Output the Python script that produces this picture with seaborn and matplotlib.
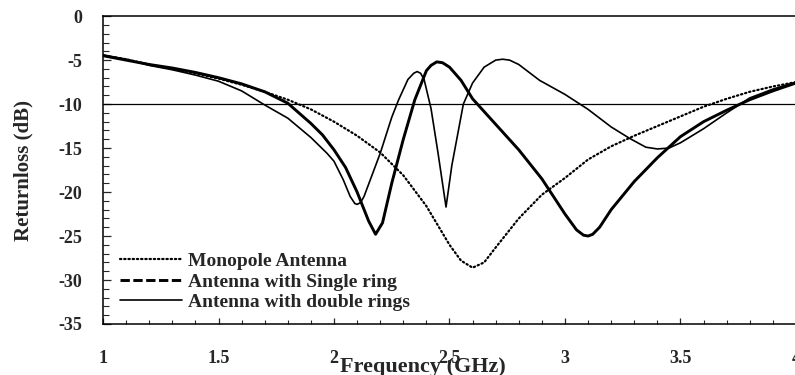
import matplotlib
matplotlib.use("Agg")
import matplotlib.pyplot as plt
from matplotlib.lines import Line2D
from matplotlib.ticker import MultipleLocator, FixedLocator
import numpy as np
import pandas as pd
import seaborn as sns

# ---------------- data ----------------
series_names = ["Monopole Antenna", "Antenna with Single ring", "Antenna with double rings"]

freq_mono = [1.0, 1.1, 1.2, 1.3, 1.4, 1.5, 1.6, 1.7, 1.8, 1.9, 2.0, 2.1, 2.2, 2.3,
             2.4, 2.5, 2.55, 2.6, 2.65, 2.7, 2.8, 2.9, 3.0, 3.1, 3.2, 3.3, 3.4,
             3.5, 3.6, 3.7, 3.8, 3.9, 4.0]
rl_mono = [-4.5, -4.9, -5.5, -6.0, -6.5, -7.1, -7.8, -8.6, -9.5, -10.6, -12.0, -13.6,
           -15.5, -18.1, -21.6, -26.0, -27.8, -28.6, -28.0, -26.3, -23.0, -20.3,
           -18.4, -16.3, -14.8, -13.6, -12.5, -11.4, -10.3, -9.4, -8.6, -8.0, -7.5]

freq_single = [1.0, 1.1, 1.2, 1.3, 1.4, 1.5, 1.6, 1.7, 1.8, 1.9, 1.95, 2.0, 2.05,
               2.1, 2.15, 2.18, 2.21, 2.25, 2.3, 2.35, 2.4, 2.42, 2.445, 2.47, 2.5,
               2.55, 2.6, 2.7, 2.8, 2.9, 3.0, 3.05, 3.08, 3.1, 3.12, 3.15, 3.2,
               3.3, 3.4, 3.5, 3.6, 3.7, 3.8, 3.9, 4.0]
rl_single = [-4.5, -5.0, -5.5, -5.9, -6.4, -7.0, -7.7, -8.6, -9.9, -12.2, -13.5,
             -15.2, -17.2, -20.0, -23.3, -24.8, -23.5, -19.0, -14.0, -9.5, -6.2,
             -5.6, -5.2, -5.3, -5.8, -7.3, -9.4, -12.3, -15.2, -18.5, -22.5, -24.3,
             -24.9, -25.0, -24.8, -24.0, -22.0, -18.8, -16.1, -13.7, -12.0, -10.7,
             -9.5, -8.5, -7.6]

freq_double = [1.0, 1.1, 1.2, 1.3, 1.4, 1.5, 1.6, 1.7, 1.8, 1.9, 1.97, 2.0, 2.04,
               2.07, 2.09, 2.1, 2.115, 2.13, 2.2, 2.25, 2.28, 2.32, 2.345, 2.36,
               2.375, 2.39, 2.42, 2.45, 2.485, 2.51, 2.56, 2.6, 2.65, 2.7, 2.73,
               2.76, 2.8, 2.89, 3.0, 3.1, 3.2, 3.28, 3.35, 3.4, 3.45, 3.5, 3.6,
               3.7, 3.8, 3.9, 4.0]
rl_double = [-4.4, -4.9, -5.6, -6.1, -6.7, -7.4, -8.5, -10.1, -11.6, -13.8, -15.6,
             -16.5, -18.6, -20.5, -21.3, -21.4, -21.2, -20.5, -15.6, -11.5, -9.5,
             -7.2, -6.5, -6.3, -6.5, -7.2, -10.5, -15.5, -21.7, -17.0, -10.0, -7.6,
             -5.8, -5.0, -4.9, -5.0, -5.5, -7.3, -8.9, -10.6, -12.6, -13.9, -14.9,
             -15.1, -15.0, -14.4, -12.8, -11.0, -9.3, -8.3, -7.5]

x_ticks = [1, 1.5, 2, 2.5, 3, 3.5, 4]
x_tick_labels = ["1", "1.5", "2", "2.5", "3", "3.5", "4"]
y_ticks = [0, -5, -10, -15, -20, -25, -30, -35]
y_tick_labels = ["0", "-5", "-10", "-15", "-20", "-25", "-30", "-35"]
threshold = -10

df = pd.concat([
    pd.DataFrame({"freq": freq_mono, "rl": rl_mono, "series": series_names[0]}),
    pd.DataFrame({"freq": freq_single, "rl": rl_single, "series": series_names[1]}),
    pd.DataFrame({"freq": freq_double, "rl": rl_double, "series": series_names[2]}),
], ignore_index=True)

# ---------------- styling ----------------
sns.set_style("white")
plt.rcParams["font.family"] = ["Liberation Serif", "DejaVu Serif"]
plt.rcParams["font.weight"] = "bold"
plt.rcParams["axes.unicode_minus"] = False

fig = plt.figure(figsize=(7.95, 3.75), dpi=100)
ax = fig.add_axes([0.1296, 0.136, 0.8716, 0.821])

styles = {
    series_names[0]: dict(lw=1.6, ls=(0, (0.6, 1.3)), dash_capstyle="round"),
    series_names[1]: dict(lw=2.1, ls="-"),
    series_names[2]: dict(lw=1.2, ls="-"),
}
for name in series_names:
    sub = df[df["series"] == name]
    st = styles[name]
    line_kws = dict(color="black", linewidth=st["lw"], linestyle=st["ls"])
    if "dash_capstyle" in st:
        line_kws["dash_capstyle"] = st["dash_capstyle"]
    sns.lineplot(data=sub, x="freq", y="rl", ax=ax, sort=False, estimator=None,
                 legend=False, **line_kws)

ax.axhline(threshold, color="black", lw=0.9, zorder=1)

ax.set_xlim(1, 4)
ax.set_ylim(-35, 0)
ax.xaxis.set_major_locator(FixedLocator(x_ticks))
ax.set_xticklabels(x_tick_labels)
ax.yaxis.set_major_locator(FixedLocator(y_ticks))
ax.set_yticklabels(y_tick_labels)
ax.xaxis.set_minor_locator(MultipleLocator(0.1))
ax.yaxis.set_minor_locator(MultipleLocator(1))

ax.tick_params(axis="x", which="major", direction="in", length=4.5, width=0.9,
               pad=19, labelsize=13, bottom=True, top=False)
ax.tick_params(axis="x", which="minor", direction="in", length=3.2, width=0.8,
               bottom=True, top=False)
ax.tick_params(axis="y", which="major", direction="in", length=6, width=0.9,
               pad=15, labelsize=13, left=True, right=False)
ax.tick_params(axis="y", which="minor", direction="in", length=4.5, width=0.8,
               left=True, right=False)
for lab in ax.get_xticklabels() + ax.get_yticklabels():
    lab.set_fontweight("bold")

for side in ["left", "bottom", "top"]:
    ax.spines[side].set_visible(True)
    ax.spines[side].set_color("black")
    ax.spines[side].set_linewidth(1.1)
ax.spines["right"].set_visible(False)

ax.set_xlabel("Frequency (GHz)", fontsize=16, fontweight="bold")
ax.xaxis.label.set_va("baseline")
ax.xaxis.set_label_coords(0.462, -0.156)
ax.set_ylabel("Returnloss (dB)", fontsize=15, fontweight="bold")
ax.yaxis.label.set_va("center")
ax.yaxis.set_label_coords(-0.115, 0.5)

handles = [
    Line2D([], [], color="black", lw=1.6, ls=(0, (0.6, 1.3)), dash_capstyle="round"),
    Line2D([], [], color="black", lw=2.1, ls=(0, (3.2, 1.2))),
    Line2D([], [], color="black", lw=1.2, ls="-"),
]
leg = ax.legend(handles, series_names, loc="upper left",
                bbox_to_anchor=(0.0245, 0.232), frameon=False, borderpad=0,
                borderaxespad=0, handlelength=3.2, handletextpad=0.3,
                labelspacing=0.15, prop=dict(family="Liberation Serif",
                                            weight="bold", size=14))

fig.savefig("out.png", dpi=100, facecolor="white")
